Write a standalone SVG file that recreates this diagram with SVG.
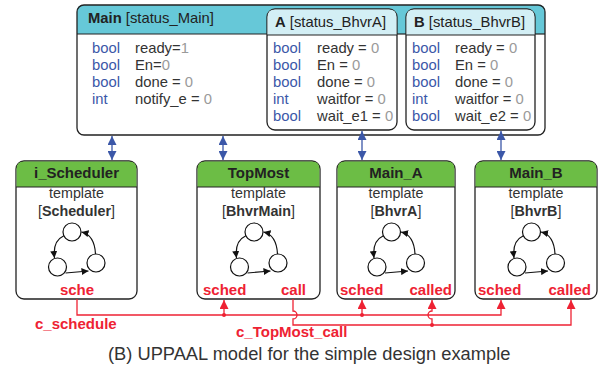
<svg xmlns="http://www.w3.org/2000/svg" width="602" height="369" viewBox="0 0 602 369">
<style>
text{font-family:"Liberation Sans",Arial,sans-serif;}
.h{font-size:14.8px;fill:#222;}
.b{font-weight:bold;}
.k{font-size:14.8px;fill:#3b57a8;}
.v{font-size:14.8px;fill:#333;}
.g{fill:#9a9a9a;}
.t{font-size:15px;font-weight:bold;fill:#222;text-anchor:middle;}
.tp{font-size:14.3px;fill:#333;text-anchor:middle;}
.r{font-size:15px;font-weight:bold;fill:#ee2233;}
.box{fill:#fff;stroke:#222;stroke-width:1.3;}
.wire{fill:none;stroke:#ee2233;stroke-width:1.3;}
.blue{stroke:#3b57a8;stroke-width:1.3;fill:none;}
.ic{fill:#fff;stroke:#111;stroke-width:1.2;}
.ia{fill:none;stroke:#111;stroke-width:1.2;}
</style>
<defs>
<marker id="ra" viewBox="0 0 10 10" refX="10" refY="5" markerWidth="9" markerHeight="9" markerUnits="userSpaceOnUse" orient="auto"><path d="M0,0 L10,5 L0,10 z" fill="#ee2233"/></marker>
<marker id="ba" viewBox="0 0 10 10" refX="10" refY="5" markerWidth="9" markerHeight="9" markerUnits="userSpaceOnUse" orient="auto-start-reverse"><path d="M0,0 L10,5 L0,10 z" fill="#3b57a8"/></marker>
<marker id="ka" viewBox="0 0 10 10" refX="10" refY="5" markerWidth="7" markerHeight="7" markerUnits="userSpaceOnUse" orient="auto"><path d="M0,0 L10,5 L0,10 z" fill="#111"/></marker>
<g id="cyc">
<path class="ia" d="M-13,236 Q-24,241 -22,258" marker-end="url(#ka)"/>
<path class="ia" d="M-11,273 L12,271" marker-end="url(#ka)"/>
<path class="ia" d="M19,254 Q18,235 5,232" marker-end="url(#ka)"/>
<circle class="ic" cx="-4.5" cy="232" r="9"/>
<circle class="ic" cx="-19" cy="267" r="9"/>
<circle class="ic" cx="19.5" cy="263" r="9"/>
</g>
</defs>
<rect width="602" height="369" fill="#fff"/>

<g id="Main">
<path d="M83,5 H539 Q545,5 545,11 V34 H77 V11 Q77,5 83,5 Z" fill="#66c8d8"/>
<rect class="box" x="77" y="5" width="468" height="130" rx="7" style="fill:none"/>
<line x1="77" y1="34" x2="267" y2="34" stroke="#222" stroke-width="1.2"/>
<text class="h" x="88" y="23"><tspan class="b">Main</tspan> [status_Main]</text>
<text class="k" x="92" y="53">bool</text><text class="v" x="135" y="53">ready=<tspan class="g">1</tspan></text>
<text class="k" x="92" y="70">bool</text><text class="v" x="135" y="70">En=<tspan class="g">0</tspan></text>
<text class="k" x="92" y="87">bool</text><text class="v" x="135" y="87">done = <tspan class="g">0</tspan></text>
<text class="k" x="92" y="104">int</text><text class="v" x="135" y="104">notify_e = <tspan class="g">0</tspan></text>
</g>

<g id="A">
<rect class="box" x="267" y="9" width="130" height="121" rx="8"/>
<path d="M275,9.6 H389 Q396.4,9.6 396.4,17 V35 H267.6 V17 Q267.6,9.6 275,9.6 Z" fill="#d3eff5"/>
<line x1="267" y1="35" x2="397" y2="35" stroke="#222" stroke-width="1.2"/>
<text class="h" x="275" y="27"><tspan class="b">A</tspan> [status_BhvrA]</text>
<text class="k" x="273" y="53">bool</text><text class="v" x="317" y="53">ready = <tspan class="g">0</tspan></text>
<text class="k" x="273" y="70">bool</text><text class="v" x="317" y="70">En = <tspan class="g">0</tspan></text>
<text class="k" x="273" y="87">bool</text><text class="v" x="317" y="87">done = <tspan class="g">0</tspan></text>
<text class="k" x="273" y="104">int</text><text class="v" x="317" y="104">waitfor = <tspan class="g">0</tspan></text>
<text class="k" x="273" y="121">bool</text><text class="v" x="317" y="121">wait_e1 = <tspan class="g">0</tspan></text>
</g>

<g id="B">
<rect class="box" x="406" y="9" width="129" height="121" rx="8"/>
<path d="M414,9.6 H527 Q534.4,9.6 534.4,17 V35 H406.6 V17 Q406.6,9.6 414,9.6 Z" fill="#d3eff5"/>
<line x1="406" y1="35" x2="535" y2="35" stroke="#222" stroke-width="1.2"/>
<line x1="397" y1="34" x2="406" y2="34" stroke="#222" stroke-width="1.2"/>
<line x1="535" y1="34" x2="545" y2="34" stroke="#222" stroke-width="1.2"/>
<text class="h" x="414" y="27"><tspan class="b">B</tspan> [status_BhvrB]</text>
<text class="k" x="412" y="53">bool</text><text class="v" x="455" y="53">ready = <tspan class="g">0</tspan></text>
<text class="k" x="412" y="70">bool</text><text class="v" x="455" y="70">En = <tspan class="g">0</tspan></text>
<text class="k" x="412" y="87">bool</text><text class="v" x="455" y="87">done = <tspan class="g">0</tspan></text>
<text class="k" x="412" y="104">int</text><text class="v" x="455" y="104">waitfor = <tspan class="g">0</tspan></text>
<text class="k" x="412" y="121">bool</text><text class="v" x="455" y="121">wait_e2 = <tspan class="g">0</tspan></text>
</g>

<g id="i_Scheduler">
<rect class="box" x="16" y="161" width="121" height="138" rx="8"/>
<path d="M24,161.6 H129 Q136.4,161.6 136.4,169 V187 H16.6 V169 Q16.6,161.6 24,161.6 Z" fill="#6cbd45"/>
<line x1="16" y1="187" x2="137" y2="187" stroke="#222" stroke-width="1.2"/>
<text class="t" x="76.5" y="178">i_Scheduler</text>
<text class="tp" x="76.5" y="198">template</text>
<text class="tp" x="76.5" y="216">[<tspan class="b">Scheduler</tspan>]</text>
<use href="#cyc" x="76.5"/>
<text class="r" x="77" y="295" text-anchor="middle">sche</text>
</g>

<g id="TopMost">
<rect class="box" x="197" y="161" width="123" height="138" rx="8"/>
<path d="M205,161.6 H312 Q319.4,161.6 319.4,169 V187 H197.6 V169 Q197.6,161.6 205,161.6 Z" fill="#6cbd45"/>
<line x1="197" y1="187" x2="320" y2="187" stroke="#222" stroke-width="1.2"/>
<text class="t" x="258.5" y="178">TopMost</text>
<text class="tp" x="258.5" y="198">template</text>
<text class="tp" x="258.5" y="216">[<tspan class="b">BhvrMain</tspan>]</text>
<use href="#cyc" x="258.5"/>
<text class="r" x="203" y="295">sched</text>
<text class="r" x="306" y="295" text-anchor="end">call</text>
</g>

<g id="Main_A">
<rect class="box" x="337" y="161" width="118" height="138" rx="8"/>
<path d="M345,161.6 H447 Q454.4,161.6 454.4,169 V187 H337.6 V169 Q337.6,161.6 345,161.6 Z" fill="#6cbd45"/>
<line x1="337" y1="187" x2="455" y2="187" stroke="#222" stroke-width="1.2"/>
<text class="t" x="396" y="178">Main_A</text>
<text class="tp" x="396" y="198">template</text>
<text class="tp" x="396" y="216">[<tspan class="b">BhvrA</tspan>]</text>
<use href="#cyc" x="396"/>
<text class="r" x="340" y="295">sched</text>
<text class="r" x="452" y="295" text-anchor="end">called</text>
</g>

<g id="Main_B">
<rect class="box" x="475" y="161" width="122" height="138" rx="8"/>
<path d="M483,161.6 H589 Q596.4,161.6 596.4,169 V187 H475.6 V169 Q475.6,161.6 483,161.6 Z" fill="#6cbd45"/>
<line x1="475" y1="187" x2="597" y2="187" stroke="#222" stroke-width="1.2"/>
<text class="t" x="536" y="178">Main_B</text>
<text class="tp" x="536" y="198">template</text>
<text class="tp" x="536" y="216">[<tspan class="b">BhvrB</tspan>]</text>
<use href="#cyc" x="536"/>
<text class="r" x="478" y="295">sched</text>
<text class="r" x="591" y="295" text-anchor="end">called</text>
</g>

<g id="connectors">
<line class="blue" x1="112" y1="136" x2="112" y2="160" marker-start="url(#ba)" marker-end="url(#ba)"/>
<line class="blue" x1="223" y1="136" x2="223" y2="160" marker-start="url(#ba)" marker-end="url(#ba)"/>
<line class="blue" x1="362" y1="131" x2="362" y2="160" marker-start="url(#ba)" marker-end="url(#ba)"/>
<line class="blue" x1="501" y1="131" x2="501" y2="160" marker-start="url(#ba)" marker-end="url(#ba)"/>

<path class="wire" d="M77,299 V315 H501 V300" marker-end="url(#ra)"/>
<line class="wire" x1="224" y1="315" x2="224" y2="300" marker-end="url(#ra)"/>
<line class="wire" x1="362" y1="315" x2="362" y2="300" marker-end="url(#ra)"/>
<circle cx="224" cy="315" r="2" fill="#ee2233"/>
<circle cx="362" cy="315" r="2" fill="#ee2233"/>

<path class="wire" d="M293,299 V311 A4,4 0 0 1 293,319 V325 H571 V300" marker-end="url(#ra)"/>
<path class="wire" d="M432,325 V319 A4,4 0 0 1 432,311 V300" marker-end="url(#ra)"/>
<circle cx="432" cy="325" r="2" fill="#ee2233"/>

<text class="r" x="35" y="329">c_schedule</text>
<text class="r" x="236" y="337">c_TopMost_call</text>
</g>

<text x="108" y="360" font-size="18.3" fill="#333">(B) UPPAAL model for the simple design example</text>
</svg>
